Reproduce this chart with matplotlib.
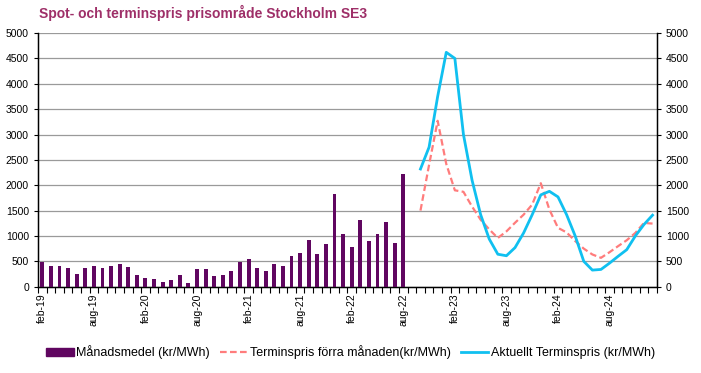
import numpy as np
import matplotlib
matplotlib.use("Agg")
import matplotlib.pyplot as plt
from matplotlib.lines import Line2D
from matplotlib.patches import Patch

plt.rcParams['font.family'] = ['Liberation Sans', 'DejaVu Sans']

# kategorier: månader feb-19 .. jan-25
man = ['jan', 'feb', 'mar', 'apr', 'maj', 'jun', 'jul', 'aug', 'sep', 'okt', 'nov', 'dec']
kategorier = [f"{m}-{y:02d}" for y in range(19, 26) for m in man][1:73]
tick_labels = ['feb-19', 'aug-19', 'feb-20', 'aug-20', 'feb-21', 'aug-21',
               'feb-22', 'aug-22', 'feb-23', 'aug-23', 'feb-24', 'aug-24']

# månadsmedel feb-19 .. aug-22
manadsmedel = [480, 413, 413, 360, 253, 360, 400, 360, 400, 440, 380,
               233, 180, 153, 93, 140, 233, 80, 340, 340, 220, 233, 307,
               493, 540, 360, 313, 440, 400, 600, 667, 920, 653, 833, 1820,
               1033, 780, 1313, 900, 1033, 1280, 853, 2230]

# terminspriser okt-22 .. jan-25
termin_forra = [1500, 2400, 3270, 2420, 1900, 1870, 1580, 1320, 1130, 960,
                1090, 1260, 1420, 1620, 2040, 1520, 1160, 1070, 900, 750,
                635, 569, 680, 800, 916, 1060, 1257, 1244]
termin_aktuellt = [2320, 2750, 3750, 4620, 4500, 3000, 2100, 1420, 940, 640,
                   610, 770, 1060, 1420, 1810, 1880, 1770, 1420, 1000, 500,
                   327, 340, 465, 600, 730, 1000, 1225, 1410]

n = len(kategorier)
x = np.arange(n)
start_termin = kategorier.index('okt-22')

bar_y = np.full(n, np.nan)
bar_y[:len(manadsmedel)] = manadsmedel
forra_y = np.full(n, np.nan)
forra_y[start_termin:start_termin + len(termin_forra)] = termin_forra
akt_y = np.full(n, np.nan)
akt_y[start_termin:start_termin + len(termin_aktuellt)] = termin_aktuellt

fig = plt.figure(figsize=(7.01, 3.73), dpi=100)
ax = fig.add_axes([0.0542, 0.2314, 0.8828, 0.68])

ax.bar(x, bar_y, width=0.45, color='#600660', zorder=3)
ax.plot(x, forra_y, color='#FF7C7C', lw=1.6, dashes=(3, 1.5), zorder=4)
ax.plot(x, akt_y, color='#10C0F0', lw=2.0, zorder=5)

ax.set_xlim(-0.5, n - 0.5)
ax.set_ylim(0, 5000)
ax.set_yticks(np.arange(0, 5001, 500))
ax.yaxis.grid(True, color='#9a9a9a', lw=0.9, zorder=0)
ax.set_axisbelow(True)

pos = [kategorier.index(t) for t in tick_labels]
ax.set_xticks(pos)
ax.set_xticklabels(tick_labels, rotation=90, fontsize=7.5)
ax.tick_params(axis='x', length=0, pad=5)
ax.set_xticks(np.arange(-0.5, n, 1), minor=True)
ax.tick_params(axis='x', which='minor', length=4, direction='out', width=0.8)
ax.tick_params(axis='y', labelsize=7.5, length=3, width=0.8)

ax.spines['top'].set_visible(False)
for s in ['left', 'bottom', 'right']:
    ax.spines[s].set_linewidth(1.0)

ax2 = ax.twinx()
ax2.set_ylim(0, 5000)
ax2.set_yticks(np.arange(0, 5001, 500))
ax2.tick_params(axis='y', labelsize=7.5, length=3, width=0.8)
ax2.spines['top'].set_visible(False)

fig.text(0.056, 0.965, 'Spot- och terminspris prisområde Stockholm SE3',
         fontsize=10, fontweight='bold', color='#9E2F68', va='center')

handles = [Patch(color='#600660'),
           Line2D([], [], color='#FF7C7C', lw=1.6, dashes=(3, 1.5)),
           Line2D([], [], color='#10C0F0', lw=2.0)]
labels = ['Månadsmedel (kr/MWh)', 'Terminspris förra månaden(kr/MWh)',
          'Aktuellt Terminspris (kr/MWh)']
fig.legend(handles, labels, loc='center', bbox_to_anchor=(0.5, 0.056), ncol=3,
           frameon=False, fontsize=9, handlelength=2.2, handletextpad=0.2,
           columnspacing=0.8, handleheight=0.6)

fig.savefig('out.png', dpi=100)
